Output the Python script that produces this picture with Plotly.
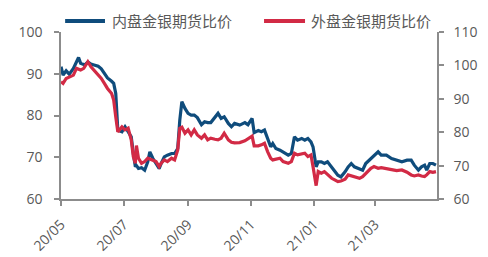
import plotly.graph_objects as go

dates = [
"2020-05-01","2020-05-03","2020-05-06","2020-05-09","2020-05-13","2020-05-16","2020-05-18","2020-05-20",
"2020-05-23","2020-05-24","2020-05-27","2020-05-30","2020-06-02","2020-06-06","2020-06-09","2020-06-12",
"2020-06-15","2020-06-19","2020-06-21","2020-06-23","2020-06-24","2020-06-25","2020-06-29","2020-07-02",
"2020-07-05","2020-07-08","2020-07-10","2020-07-12","2020-07-13","2020-07-15","2020-07-18","2020-07-21",
"2020-07-24","2020-07-26","2020-07-29","2020-08-01","2020-08-04","2020-08-06","2020-08-09","2020-08-12",
"2020-08-16","2020-08-19","2020-08-22","2020-08-24","2020-08-26","2020-08-29","2020-09-01","2020-09-04",
"2020-09-07","2020-09-10","2020-09-14","2020-09-17","2020-09-20","2020-09-23","2020-09-27","2020-09-30",
"2020-10-03","2020-10-06","2020-10-10","2020-10-13","2020-10-16","2020-10-21","2020-10-26","2020-10-29",
"2020-11-02","2020-11-04","2020-11-08","2020-11-11","2020-11-14","2020-11-17","2020-11-20","2020-11-22",
"2020-11-25","2020-11-29","2020-12-02","2020-12-07","2020-12-10","2020-12-13","2020-12-16","2020-12-20",
"2020-12-23","2020-12-26","2020-12-29","2020-12-31","2021-01-03","2021-01-05","2021-01-08","2021-01-11",
"2021-01-14","2021-01-18","2021-01-21","2021-01-24","2021-01-27","2021-01-31","2021-02-03","2021-02-06",
"2021-02-09","2021-02-14","2021-02-17","2021-02-20","2021-02-25","2021-02-28","2021-03-04","2021-03-07",
"2021-03-12","2021-03-17","2021-03-22","2021-03-27","2021-04-01","2021-04-05","2021-04-08","2021-04-12",
"2021-04-15","2021-04-18","2021-04-20","2021-04-23","2021-04-26","2021-04-29"]

domestic = [
91.7,89.7,90.7,89.9,91.3,93.0,93.9,92.5,
92.2,92.1,92.8,92.3,92.1,91.8,91.2,90.2,
89.0,88.2,87.7,85.3,79.5,76.5,76.1,77.3,
76.1,74.9,70.9,67.7,68.0,67.3,67.5,66.9,
68.9,71.3,69.7,68.5,67.3,68.5,70.1,70.5,
70.9,70.9,72.1,78.9,83.3,81.7,80.5,80.1,
80.1,79.5,77.8,78.5,78.3,78.3,79.5,80.5,
79.3,79.7,78.1,77.3,78.1,77.7,78.3,77.8,
79.3,75.9,76.4,76.1,76.5,74.5,72.5,73.3,
72.1,71.7,71.3,70.5,70.9,74.9,74.1,74.5,
74.1,74.5,73.7,72.5,67.7,68.9,68.9,68.5,
68.9,67.7,66.9,65.7,65.3,66.5,67.7,68.5,
67.7,67.3,66.9,68.5,69.7,70.5,71.3,70.5,
70.5,69.7,69.3,68.9,69.3,69.3,68.1,66.9,
67.7,68.1,66.9,68.5,68.5,68.1]

overseas = [
95.1,94.6,96.1,96.6,97.1,99.1,98.8,98.6,
99.1,99.5,101.1,99.6,98.6,97.1,96.1,94.6,
93.1,91.6,89.6,84.6,82.6,80.1,81.6,80.7,
81.2,77.7,72.7,70.7,76.0,72.2,70.7,71.2,
72.2,72.0,71.7,71.2,69.7,70.7,71.7,71.2,
72.2,71.7,74.7,81.2,81.5,79.7,80.7,79.2,
80.7,79.2,78.2,79.2,77.7,78.2,77.9,77.7,
78.2,79.7,77.7,77.0,76.8,76.9,77.4,78.0,
78.8,75.9,75.9,76.2,76.7,74.2,72.2,71.7,
72.0,72.2,71.2,70.7,71.2,73.7,73.2,73.4,
73.7,72.7,73.2,69.7,64.0,68.2,67.7,68.2,
67.2,66.2,65.7,65.2,65.4,65.9,67.2,66.9,
66.7,66.2,66.7,67.7,69.2,69.7,69.2,69.4,
69.2,68.8,68.5,68.7,68.0,67.2,66.9,67.2,
66.9,66.7,67.2,68.2,68.0,68.2]

tick_vals = ["2020-05-01","2020-07-01","2020-09-01","2020-11-01","2021-01-01","2021-03-01"]
tick_text = ["20/05","20/07","20/09","20/11","21/01","21/03"]
names = ["内盘金银期货比价", "外盘金银期货比价"]

BLUE = "#0F4C7C"
RED = "#D22A45"
GRAY = "#595959"
AX = "#8C8C8C"

fig = go.Figure()
fig.add_trace(go.Scatter(x=dates, y=domestic, name=names[0], mode="lines",
                         line=dict(color=BLUE, width=3.2), yaxis="y"))
fig.add_trace(go.Scatter(x=dates, y=overseas, name=names[1], mode="lines",
                         line=dict(color=RED, width=3.2), yaxis="y2"))

tickfont = dict(family="Open Sans, sans-serif", size=14, color=GRAY)

fig.update_layout(
    width=488, height=257,
    margin=dict(l=61, r=51, t=32, b=58),
    paper_bgcolor="white", plot_bgcolor="white",
    showlegend=False,
    xaxis=dict(type="date", range=["2020-05-01", "2021-04-30"],
               tickvals=tick_vals, ticktext=tick_text, tickangle=-45,
               showline=True, linecolor=AX, linewidth=1.5,
               ticks="outside", ticklen=5, tickcolor=AX, tickwidth=1.5,
               ticklabelstandoff=5, automargin=False,
               showgrid=False, zeroline=False, tickfont=tickfont),
    yaxis=dict(range=[60, 100], dtick=10, showline=True, linecolor=AX, linewidth=1.5,
               ticks="outside", ticklen=5, tickcolor=AX, tickwidth=1.5,
               ticklabelstandoff=9, automargin=False,
               showgrid=False, zeroline=False, tickfont=tickfont),
    yaxis2=dict(range=[60, 110], dtick=10, overlaying="y", side="right",
                showline=True, linecolor=AX, linewidth=1.5,
                ticks="outside", ticklen=5, tickcolor=AX, tickwidth=1.5,
                ticklabelstandoff=7, automargin=False,
                showgrid=False, zeroline=False, tickfont=tickfont),
)

# manual legend
leg_font = dict(family="Noto Sans CJK SC, sans-serif", size=15, color=GRAY)
for (x0, x1, tx, col, nm) in [(0.011, 0.117, 0.130, BLUE, names[0]),
                               (0.540, 0.649, 0.660, RED, names[1])]:
    fig.add_shape(type="line", xref="paper", yref="paper", x0=x0, x1=x1, y0=1.066, y1=1.066,
                  line=dict(color=col, width=4))
    fig.add_annotation(xref="paper", yref="paper", x=tx, y=1.066, text=nm, showarrow=False,
                       xanchor="left", yanchor="middle", font=leg_font)

fig.write_html("out.html")
